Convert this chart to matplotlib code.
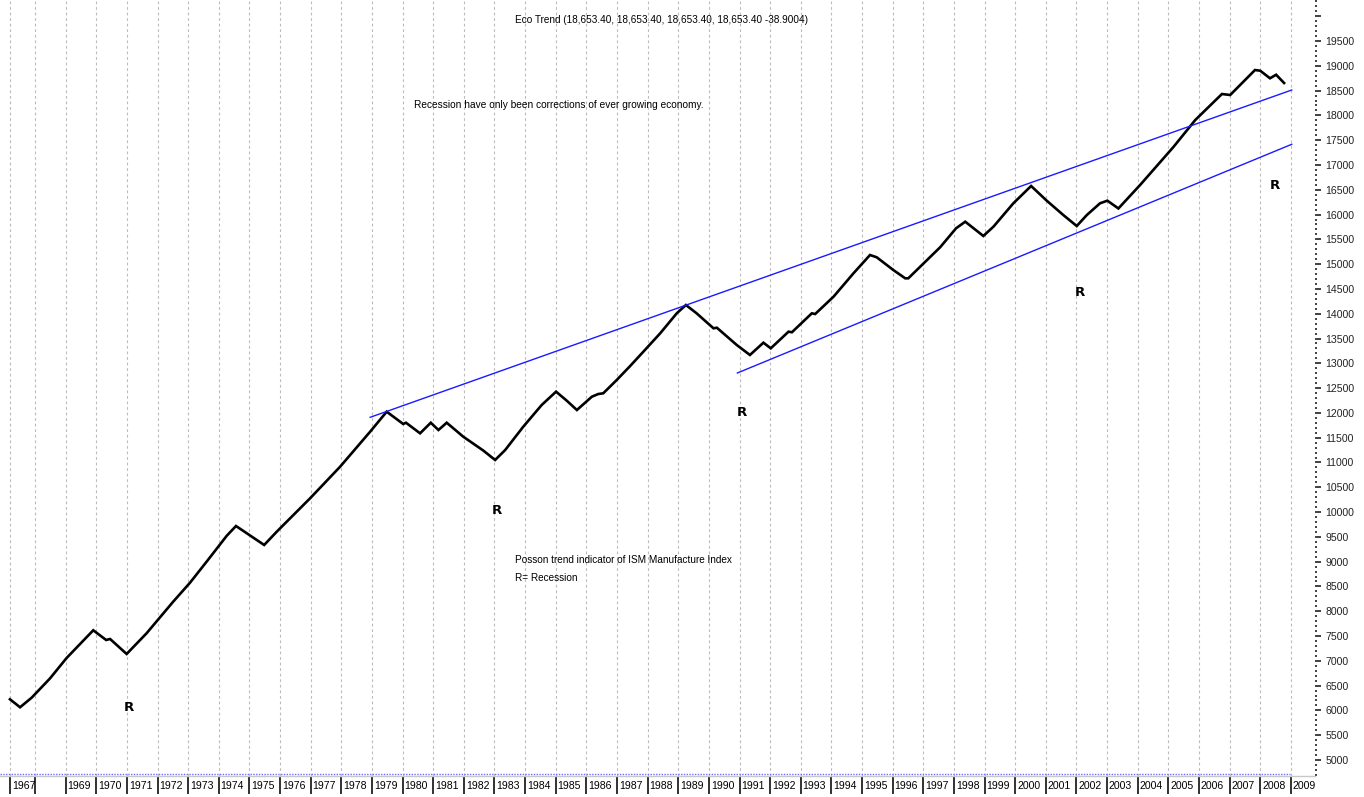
import numpy as np
import matplotlib
matplotlib.use('Agg')
import matplotlib.pyplot as plt
from matplotlib import transforms

# ---- data (decimal year, index value)
years = [1967.18, 1967.51, 1967.89, 1968.49, 1969.03, 1969.90, 1970.32, 1970.45,
         1970.99, 1971.64, 1972.51, 1973.06, 1973.60, 1974.26, 1974.56, 1975.48,
         1975.89, 1976.98, 1977.96, 1978.94, 1979.48, 1980.02, 1980.11, 1980.57,
         1980.92, 1981.17, 1981.44, 1981.98, 1982.64, 1983.02, 1983.35, 1983.94,
         1984.54, 1985.01, 1985.36, 1985.69, 1986.18, 1986.39, 1986.55, 1986.99,
         1987.43, 1987.86, 1988.41, 1988.95, 1989.25, 1989.60, 1990.15, 1990.26,
         1990.91, 1991.34, 1991.78, 1992.02, 1992.60, 1992.71, 1993.36, 1993.47,
         1994.07, 1994.72, 1995.26, 1995.48, 1996.02, 1996.41, 1996.51, 1996.90,
         1997.55, 1998.07, 1998.37, 1998.96, 1999.29, 1999.94, 2000.52, 2001.03,
         2001.57, 2002.01, 2002.34, 2002.77, 2003.01, 2003.37, 2004.08, 2005.17,
         2005.88, 2006.75, 2007.02, 2007.83, 2008.00, 2008.32, 2008.52, 2008.78]
eco = [6224, 6063, 6257, 6647, 7057, 7616, 7420, 7440,
       7138, 7555, 8193, 8576, 8999, 9523, 9719, 9336,
       9604, 10278, 10915, 11621, 12024, 11776, 11802, 11588,
       11802, 11655, 11802, 11520, 11238, 11050, 11252, 11722,
       12159, 12428, 12246, 12058, 12327, 12381, 12395, 12663,
       12946, 13234, 13605, 14008, 14176, 14008, 13706, 13718,
       13369, 13168, 13416, 13302, 13638, 13626, 14008, 13994,
       14344, 14815, 15184, 15138, 14882, 14714, 14714, 14949,
       15340, 15723, 15856, 15568, 15755, 16227, 16576, 16280,
       15991, 15769, 15991, 16227, 16280, 16123, 16597, 17365,
       17907, 18431, 18411, 18915, 18901, 18748, 18820, 18653]

# channel lines
upper_x = [1978.94, 2009.03]
upper_y = [11911, 18512]
lower_x = [1990.93, 2009.03]
lower_y = [12805, 17417]

# recession markers
rec_x = [1971.07, 1983.07, 1991.07, 2002.10, 2008.49]
rec_y = [6049, 10022, 12004, 14432, 16582]

tick_years = [1967.18] + list(range(1968, 2010))
tick_labels = ['1967', ''] + [str(y) for y in range(1969, 2010)]

narrow = ['Liberation Sans Narrow', 'Liberation Sans', 'DejaVu Sans']

fig = plt.figure(figsize=(13.64, 7.97), dpi=100)
ax = fig.add_axes([0, 0.02635, 0.9641, 0.97365])

ax.plot(years, eco, color='black', lw=1.9, solid_joinstyle='miter')
ax.plot(upper_x, upper_y, color='#1a1aff', lw=1.0)
ax.plot(lower_x, lower_y, color='#1a1aff', lw=1.0)

ax.set_xlim(1966.855, 2009.79)
ax.set_ylim(4677, 20327)

# dotted blue base line
ax.plot([1966.855, years[-1] + 0.2], [4720, 4720], color='#6a6aff', lw=1.0, ls=(0, (1, 1)))

# x axis: year bars below the axis, labels to the right of each bar
ax.set_xticks(tick_years)
ax.set_xticklabels([])
ax.tick_params(axis='x', direction='out', length=13, width=1.3, color='#222222')
ax.grid(axis='x', color='#bcbcbc', ls=(0, (2.5, 2.5)), lw=0.8)
trans = transforms.blended_transform_factory(ax.transData, ax.transAxes)
for x, lab in zip(tick_years, tick_labels):
    if lab:
        ax.text(x + 0.06, -0.0135, lab, transform=trans, ha='left', va='center',
                fontsize=7.6, family=narrow, color='black')

# y axis on the right
ax.yaxis.tick_right()
major = list(range(5000, 20001, 500))
ax.set_yticks(major)
ax.set_yticklabels([str(v) if v < 20000 else '' for v in major])
ax.set_yticks(range(4700, 20301, 100), minor=True)
ax.tick_params(axis='y', which='major', direction='out', length=4.3, width=1.3,
               color='#333333', pad=3, labelsize=7.6, labelcolor='#222222')
ax.tick_params(axis='y', which='minor', direction='out', length=1.6, width=1.3,
               color='#333333')
for lab in ax.get_yticklabels():
    lab.set_family(narrow)

for s in ['top', 'left', 'right']:
    ax.spines[s].set_visible(False)
ax.spines['bottom'].set_color('#c8c8c8')
ax.spines['bottom'].set_linewidth(1.0)

# text notes
ax.text(0.5027, 0.9742, 'Eco Trend (18,653.40, 18,653.40, 18,653.40, 18,653.40 -38.9004)',
        transform=ax.transAxes, ha='center', va='center', fontsize=7.2, family=narrow)
ax.text(0.3148, 0.8647, 'Recession have only been corrections of ever growing economy.',
        transform=ax.transAxes, ha='left', va='center', fontsize=7.3, family=narrow)
ax.text(0.3916, 0.2784, 'Posson trend indicator of ISM Manufacture Index',
        transform=ax.transAxes, ha='left', va='center', fontsize=7.2, family=narrow)
ax.text(0.3916, 0.2552, 'R= Recession',
        transform=ax.transAxes, ha='left', va='center', fontsize=7.2, family=narrow)

for x, y in zip(rec_x, rec_y):
    ax.text(x, y, 'R', ha='center', va='center', fontsize=9.5, fontweight='bold',
            family='DejaVu Sans')

fig.savefig('out.png', dpi=100)
